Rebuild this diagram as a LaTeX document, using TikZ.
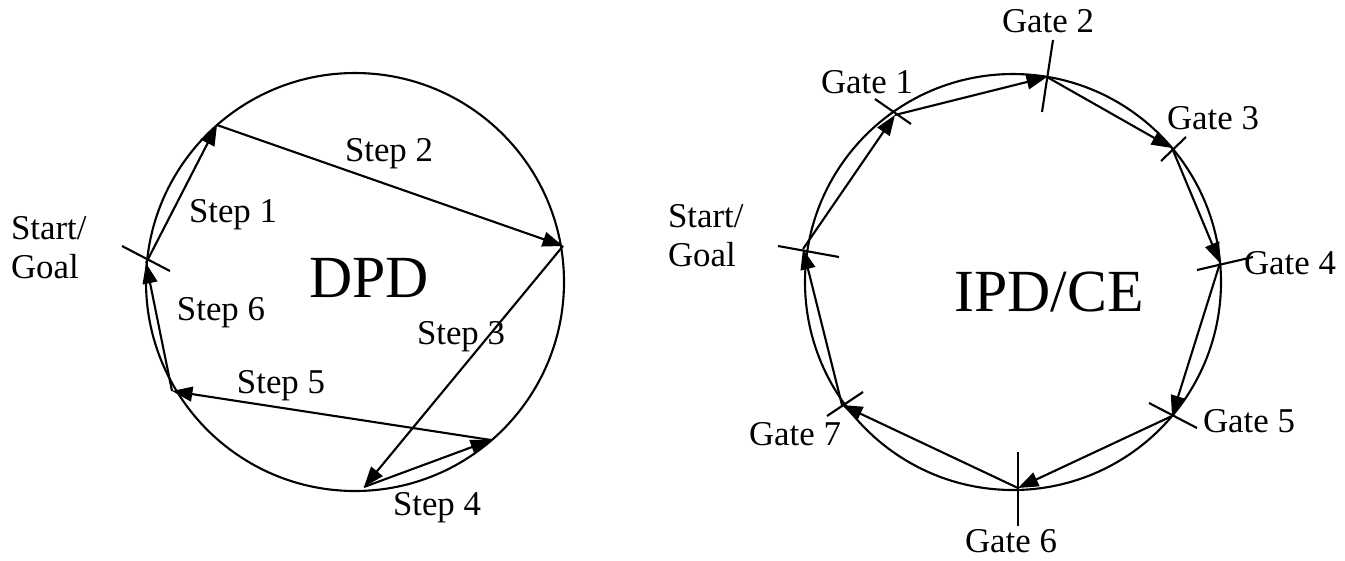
\documentclass[tikz,border=0pt]{standalone}
\usepackage{fontspec}
\setmainfont{Liberation Serif}
\usetikzlibrary{arrows.meta}
\begin{document}
\begin{tikzpicture}[x=0.01cm,y=-0.01cm,line width=0.6pt,
	leg/.style={-{Triangle[length=5.8pt,width=4.2pt]}},
	lbl/.style={font=\fontsize{9.9}{11.1}\selectfont,inner sep=0pt},
	big/.style={font=\fontsize{17}{20}\selectfont,inner sep=0pt}]
	\useasboundingbox (0,0) rectangle (1345,560);

	% DPD
	\draw (355,282) circle(209);
	\coordinate (p0) at (146,263);
	\coordinate (p1) at (217,125);
	\coordinate (p2) at (563,246);
	\coordinate (p3) at (364,487);
	\coordinate (p4) at (491,440);
	\coordinate (p5) at (172,391);

	\draw[leg] (p0) -- (p1);
	\draw[leg] (p1) -- (p2);
	\draw[leg] (p2) -- (p3);
	\draw[leg] (p3) -- (p4);
	\draw[leg] (p4) -- (p5);
	\draw[leg] (p5) -- (p0);
	\draw (p0) +(-24,-17) -- +(24,8);

	\node[lbl,align=left,anchor=west] (sgl) at (10,248) {Start/\\Goal};
	\node[lbl] (s1) at (233,215) {Step 1};
	\node[lbl] (s2) at (389,154) {Step 2};
	\node[lbl] (s3) at (461,337) {Step 3};
	\node[lbl] (s4) at (437,508) {Step 4};
	\node[lbl] (s5) at (281,386) {Step 5};
	\node[lbl] (s6) at (221,313) {Step 6};
	\node[big] (dpd) at (369,278) {DPD};

	% IPD/CE
	\draw (1013,282) circle(208);
	\coordinate (g0) at (803,249);
	\coordinate (g1) at (895,115);
	\coordinate (g2) at (1047,77);
	\coordinate (g3) at (1172,148);
	\coordinate (g4) at (1220,263);
	\coordinate (g5) at (1172,416);
	\coordinate (g6) at (1018,488);
	\coordinate (g7) at (842,405);

	\draw[leg] (g0) -- (g1);
	\draw[leg] (g1) -- (g2);
	\draw[leg] (g2) -- (g3);
	\draw[leg] (g3) -- (g4);
	\draw[leg] (g4) -- (g5);
	\draw[leg] (g5) -- (g6);
	\draw[leg] (g6) -- (g7);
	\draw[leg] (g7) -- (g0);

	\draw (g0) +(-25,-3) -- +(36,8);
	\draw (g1) +(-20,-16) -- +(16,9);
	\draw (g2) +(6,-37) -- +(-5,35);
	\draw (g3) +(-11,13) -- +(14,-11);
	\draw (g4) +(-23,7) -- +(33,-6);
	\draw (g5) +(-23,-13) -- +(25,12);
	\draw (g6) +(0,-36) -- +(0,38);
	\draw (g7) +(-15,11) -- +(21,-13);

	\node[lbl,align=left,anchor=west] (sgr) at (667,236) {Start/\\Goal};
	\node[lbl] (n1) at (867,82) {Gate 1};
	\node[lbl] (n2) at (1048,21) {Gate 2};
	\node[lbl] (n3) at (1213,118) {Gate 3};
	\node[lbl] (n4) at (1290,263) {Gate 4};
	\node[lbl] (n5) at (1249,421) {Gate 5};
	\node[lbl] (n6) at (1011,541) {Gate 6};
	\node[lbl] (n7) at (795,434) {Gate 7};
	\node[big] (ipd) at (1049,292) {IPD/CE};
\end{tikzpicture}
\end{document}
